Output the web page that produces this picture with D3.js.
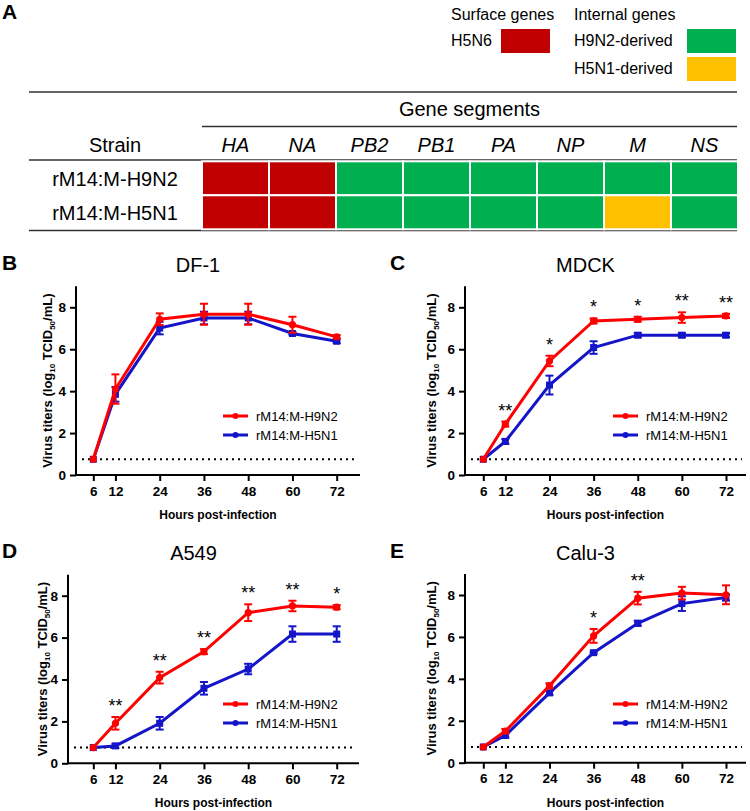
<!DOCTYPE html>
<html><head><meta charset="utf-8">
<script src="https://cdn.jsdelivr.net/npm/d3@7"></script>
<style>body{margin:0;background:#fff} svg{display:block;font-family:"Liberation Sans",Arial,sans-serif}</style>
</head><body><svg id="c" width="750" height="811"></svg>
<script>
// ---------- DATA ----------
const segments = ["HA","NA","PB2","PB1","PA","NP","M","NS"];
const strains = ["rM14:M-H9N2","rM14:M-H5N1"];
const originH9N2 = ["H5N6","H5N6","H9N2","H9N2","H9N2","H9N2","H9N2","H9N2"];
const originH5N1 = ["H5N6","H5N6","H9N2","H9N2","H9N2","H9N2","H5N1","H9N2"];
const legendSurface = ["H5N6"];
const legendInternal = ["H9N2-derived","H5N1-derived"];

const hours = [6,12,24,36,48,60,72];
const yTicks = [0,2,4,6,8];
const detectionLimit = 0.75;
const seriesNames = ["rM14:M-H9N2","rM14:M-H5N1"];

const df1H9N2   = [0.75,4.10,7.43,7.67,7.67,7.17,6.59];
const df1H9N2Sd = [0.02,0.70,0.28,0.50,0.50,0.38,0.08];
const df1H5N1   = [0.75,3.85,7.01,7.49,7.49,6.75,6.38];
const df1H5N1Sd = [0.02,0.35,0.30,0.30,0.30,0.06,0.08];
const df1Stars  = ["","","","","","",""];

const mdckH9N2   = [0.75,2.43,5.44,7.35,7.43,7.51,7.59];
const mdckH9N2Sd = [0.02,0.12,0.25,0.12,0.12,0.25,0.10];
const mdckH5N1   = [0.75,1.60,4.29,6.08,6.67,6.67,6.67];
const mdckH5N1Sd = [0.02,0.12,0.45,0.30,0.10,0.10,0.10];
const mdckStars  = ["","**","*","*","*","**","**"];

const a549H9N2   = [0.75,1.91,4.09,5.33,7.19,7.51,7.45];
const a549H9N2Sd = [0.02,0.30,0.28,0.12,0.40,0.25,0.10];
const a549H5N1   = [0.75,0.83,1.91,3.58,4.50,6.17,6.17];
const a549H5N1Sd = [0.02,0.10,0.30,0.30,0.25,0.37,0.37];
const a549Stars  = ["","**","**","**","**","**","*"];

const caluH9N2   = [0.75,1.51,3.67,6.05,7.85,8.09,8.01];
const caluH9N2Sd = [0.02,0.10,0.12,0.33,0.30,0.30,0.45];
const caluH5N1   = [0.75,1.30,3.33,5.25,6.65,7.59,7.88];
const caluH5N1Sd = [0.02,0.10,0.10,0.05,0.12,0.35,0.15];
const caluStars  = ["","","","*","**","",""];

// ---------- STYLE ----------
const FONT = '"Liberation Sans",Arial,sans-serif';
const originColor = {"H5N6":"#C00000","H9N2":"#00B050","H5N1":"#FFC000"};
const RED = "#FF0000", BLUE = "#1414C8";

const svg = d3.select("#c");

// ---------- PANEL A ----------
svg.append("text").attr("x",2).attr("y",19).attr("font-size",21).attr("font-weight","bold").text("A");

const lg = svg.append("g").attr("font-size",16);
lg.append("text").attr("x",451).attr("y",20).text("Surface genes");
lg.append("text").attr("x",574).attr("y",20).text("Internal genes");
legendSurface.forEach((t,i)=>{
  lg.append("text").attr("x",451).attr("y",46+i*28).text(t);
  lg.append("rect").attr("x",501).attr("y",29+i*28).attr("width",49).attr("height",24).attr("fill",originColor["H5N6"]);
});
const internalKeys = ["H9N2","H5N1"];
legendInternal.forEach((t,i)=>{
  lg.append("text").attr("x",574).attr("y",46+i*28).text(t);
  lg.append("rect").attr("x",687).attr("y",29+i*28).attr("width",49).attr("height",24).attr("fill",originColor[internalKeys[i]]);
});

// table
const tLeft = 29, tRight = 737, cellLeft = 202;
const lineColor = "#333";
[[tLeft,92],[cellLeft,126.5],[tLeft,160],[tLeft,230.5]].forEach(([x0,y])=>{
  svg.append("line").attr("x1",x0).attr("x2",tRight).attr("y1",y).attr("y2",y)
    .attr("stroke",lineColor).attr("stroke-width",1.5);
});
svg.append("text").attr("x",(cellLeft+tRight)/2).attr("y",116).attr("font-size",20)
  .attr("text-anchor","middle").text("Gene segments");
svg.append("text").attr("x",115).attr("y",152).attr("font-size",20).attr("text-anchor","middle").text("Strain");

const xSeg = d3.scaleBand().domain(segments).range([cellLeft, tRight+1]);
const yRow = d3.scaleBand().domain(strains).range([161.3, 229.3]);
svg.append("g").selectAll("text").data(segments).join("text")
  .attr("x",d=>xSeg(d)+xSeg.bandwidth()/2).attr("y",152).attr("font-size",20)
  .attr("font-style","italic").attr("text-anchor","middle").text(d=>d);

const rows = [originH9N2, originH5N1];
strains.forEach((s,ri)=>{
  svg.append("text").attr("x",115).attr("y",yRow(s)+yRow.bandwidth()/2+8).attr("font-size",20)
    .attr("text-anchor","middle").text(s);
  svg.append("g").selectAll("rect").data(segments).join("rect")
    .attr("x",d=>xSeg(d)).attr("y",yRow(s)).attr("width",xSeg.bandwidth()).attr("height",yRow.bandwidth())
    .attr("fill",(d,i)=>originColor[rows[ri][i]]).attr("stroke","#fff").attr("stroke-width",2);
});

// ---------- LINE PANELS ----------
const panels = [
  {letter:"B", title:"DF-1", a:df1H9N2, aSd:df1H9N2Sd, b:df1H5N1, bSd:df1H5N1Sd, stars:df1Stars,
   letterX:2, axisL:76, axisR:360, x6:93.3, x72:336.7, y0:475, y8:307.3, titleY:272, labelX:52, legX:223, legY:416},
  {letter:"C", title:"MDCK", a:mdckH9N2, aSd:mdckH9N2Sd, b:mdckH5N1, bSd:mdckH5N1Sd, stars:mdckStars,
   letterX:390, axisL:465, axisR:746, x6:483.3, x72:726, y0:475, y8:307.3, titleY:272, labelX:436, legX:613, legY:416},
  {letter:"D", title:"A549", a:a549H9N2, aSd:a549H9N2Sd, b:a549H5N1, bSd:a549H5N1Sd, stars:a549Stars,
   letterX:2, axisL:68, axisR:359, x6:93.3, x72:336.7, y0:763.3, y8:595.7, titleY:560, labelX:47, legX:223, legY:704},
  {letter:"E", title:"Calu-3", a:caluH9N2, aSd:caluH9N2Sd, b:caluH5N1, bSd:caluH5N1Sd, stars:caluStars,
   letterX:390, axisL:465, axisR:746, x6:483.3, x72:726, y0:762.7, y8:595, titleY:560, labelX:436, legX:613, legY:704}
];

panels.forEach(p=>{
  const g = svg.append("g");
  const x = d3.scaleLinear().domain([6,72]).range([p.x6,p.x72]);
  const y = d3.scaleLinear().domain([0,8]).range([p.y0,p.y8]);
  const cx = (p.axisL+p.axisR)/2;

  g.append("text").attr("x",p.letterX).attr("y",p.titleY-2).attr("font-size",21).attr("font-weight","bold").text(p.letter);
  g.append("text").attr("x",(p.axisL+p.axisR)/2 - 20).attr("y",p.titleY).attr("font-size",20)
    .attr("text-anchor","middle").text(p.title);

  // axes
  const xa = g.append("g").attr("transform",`translate(0,${p.y0})`)
    .call(d3.axisBottom(x).tickValues(hours).tickSize(6).tickPadding(5).tickSizeOuter(0));
  xa.select(".domain").remove();
  const ya = g.append("g").attr("transform",`translate(${p.axisL},0)`)
    .call(d3.axisLeft(y).tickValues(yTicks).tickSize(6).tickPadding(4).tickSizeOuter(0));
  ya.select(".domain").remove();
  [xa,ya].forEach(a=>{
    a.selectAll("line").attr("stroke","#000").attr("stroke-width",2);
    a.selectAll("text").attr("font-size",13.5).attr("font-weight","bold").attr("font-family",FONT).attr("fill","#000");
  });
  g.append("line").attr("x1",p.axisL).attr("x2",p.axisR).attr("y1",p.y0).attr("y2",p.y0).attr("stroke","#000").attr("stroke-width",2);
  g.append("line").attr("x1",p.axisL).attr("x2",p.axisL).attr("y1",p.y0+1).attr("y2",y(9)).attr("stroke","#000").attr("stroke-width",2);

  g.append("text").attr("x",cx).attr("y",p.y0+44).attr("font-size",12).attr("font-weight","bold")
    .attr("text-anchor","middle").text("Hours post-infection");

  const yl = g.append("text").attr("transform",`translate(${p.labelX},${(p.y0+y(9))/2}) rotate(-90)`)
    .attr("font-size",13).attr("font-weight","bold").attr("text-anchor","middle");
  yl.append("tspan").text("Virus titers (log");
  yl.append("tspan").attr("font-size",8).attr("dy",3).text("10");
  yl.append("tspan").attr("dy",-3).text(" TCID");
  yl.append("tspan").attr("font-size",8).attr("dy",3).text("50");
  yl.append("tspan").attr("dy",-3).text("/mL)");

  // detection limit
  g.append("line").attr("x1",p.axisL+6).attr("x2",p.axisR-4).attr("y1",y(detectionLimit)).attr("y2",y(detectionLimit))
    .attr("stroke","#000").attr("stroke-width",2).attr("stroke-dasharray","2,4");

  const series = [
    {vals:p.b, sd:p.bSd, color:BLUE, shape:"square"},
    {vals:p.a, sd:p.aSd, color:RED, shape:"circle"}
  ];
  series.forEach(s=>{
    const pts = hours.map((h,i)=>({h, v:s.vals[i], e:s.sd[i]}));
    g.append("path").datum(pts).attr("fill","none").attr("stroke",s.color).attr("stroke-width",3)
      .attr("d",d3.line().x(d=>x(d.h)).y(d=>y(d.v)));
    const eb = g.append("g").attr("stroke",s.color).attr("stroke-width",2);
    pts.forEach(d=>{
      if (d.e < 0.05) return;
      eb.append("line").attr("x1",x(d.h)).attr("x2",x(d.h)).attr("y1",y(d.v-d.e)).attr("y2",y(d.v+d.e));
      [d.v-d.e, d.v+d.e].forEach(v=>eb.append("line").attr("x1",x(d.h)-4).attr("x2",x(d.h)+4).attr("y1",y(v)).attr("y2",y(v)));
    });
    if (s.shape==="circle") {
      g.append("g").selectAll("circle").data(pts).join("circle")
        .attr("cx",d=>x(d.h)).attr("cy",d=>y(d.v)).attr("r",3.6).attr("fill",s.color);
    } else {
      g.append("g").selectAll("rect").data(pts).join("rect")
        .attr("x",d=>x(d.h)-3.5).attr("y",d=>y(d.v)-3.5).attr("width",7).attr("height",7).attr("fill",s.color);
    }
  });

  // significance stars
  hours.forEach((h,i)=>{
    if (!p.stars[i]) return;
    const top = Math.max(p.a[i]+p.aSd[i], p.b[i]+p.bSd[i]);
    g.append("text").attr("x",x(h)).attr("y",y(top)-15+10).attr("font-size",18)
      .attr("text-anchor","middle").text(p.stars[i]);
  });

  // legend
  const legColors = [RED, BLUE];
  seriesNames.forEach((n,i)=>{
    const ly = p.legY + i*19;
    g.append("line").attr("x1",p.legX).attr("x2",p.legX+25).attr("y1",ly).attr("y2",ly).attr("stroke",legColors[i]).attr("stroke-width",3);
    g.append("circle").attr("cx",p.legX+12.5).attr("cy",ly).attr("r",3).attr("fill",legColors[i]);
    g.append("text").attr("x",p.legX+33).attr("y",ly+4.7).attr("font-size",13).text(n);
  });
});
</script></body></html>
